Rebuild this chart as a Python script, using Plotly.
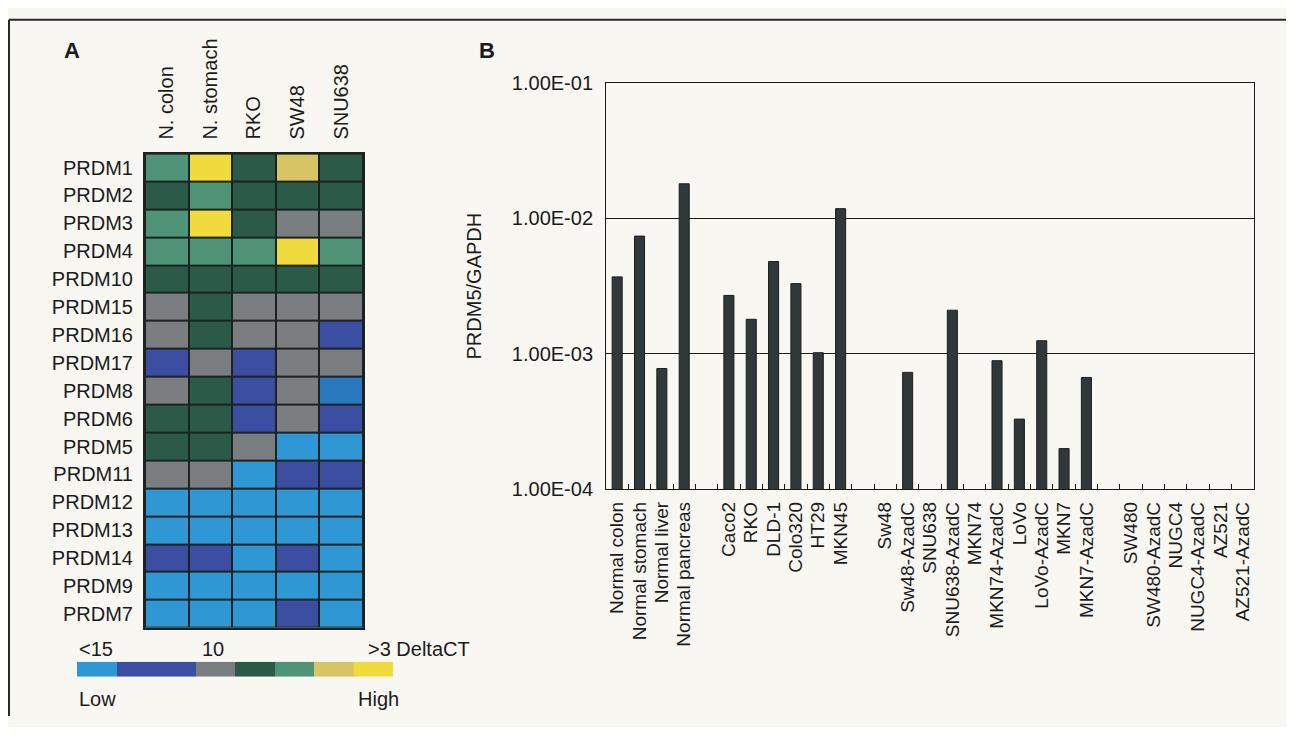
import plotly.graph_objects as go

# ---------------- Panel A data ----------------
genes = ["PRDM1", "PRDM2", "PRDM3", "PRDM4", "PRDM10", "PRDM15", "PRDM16", "PRDM17",
         "PRDM8", "PRDM6", "PRDM5", "PRDM11", "PRDM12", "PRDM13", "PRDM14", "PRDM9", "PRDM7"]
samples = ["N. colon", "N. stomach", "RKO", "SW48", "SNU638"]
# expression level class (0 = low ... 7 = high)
levels = [
    [5, 7, 4, 6, 4],
    [4, 5, 4, 4, 4],
    [5, 7, 4, 3, 3],
    [5, 5, 5, 7, 5],
    [4, 4, 4, 4, 4],
    [3, 4, 3, 3, 3],
    [3, 4, 3, 3, 2],
    [2, 3, 2, 3, 3],
    [3, 4, 2, 3, 1],
    [4, 4, 2, 3, 2],
    [4, 4, 3, 0, 0],
    [3, 3, 0, 2, 2],
    [0, 0, 0, 0, 0],
    [0, 0, 0, 0, 0],
    [2, 2, 0, 2, 0],
    [0, 0, 0, 0, 0],
    [0, 0, 0, 2, 0],
]
legend_levels = [0, 2, 2, 3, 4, 5, 6, 7]
level_colors = ["#2f98d4", "#2a78bd", "#3c4ea2", "#7b7e80", "#2b5a49", "#4f9477", "#d7c465", "#f1da3e"]

# ---------------- Panel B data ----------------
cell_lines = ["Normal colon", "Normal stomach", "Normal liver", "Normal pancreas", " ",
              "Caco2", "RKO", "DLD-1", "Colo320", "HT29", "MKN45", "  ",
              "Sw48", "Sw48-AzadC", "SNU638", "SNU638-AzadC", "MKN74", "MKN74-AzadC",
              "LoVo", "LoVo-AzadC", "MKN7", "MKN7-AzadC", "   ",
              "SW480", "SW480-AzadC", "NUGC4", "NUGC4-AzadC", "AZ521", "AZ521-AzadC"]
prdm5_gapdh = [3.7e-3, 7.4e-3, 7.8e-4, 1.8e-2, None,
               2.7e-3, 1.8e-3, 4.8e-3, 3.3e-3, 1.02e-3, 1.18e-2, None,
               None, 7.3e-4, None, 2.1e-3, None, 8.9e-4,
               3.3e-4, 1.25e-3, 2.0e-4, 6.7e-4, None,
               None, None, None, None, None, None]
y_tickvals = [1e-4, 1e-3, 1e-2, 1e-1]
y_ticktext = ["1.00E-04", "1.00E-03", "1.00E-02", "1.00E-01"]

# page body margin around the figure, plus observed vertical mapping of the capture
OFF_X, OFF_Y = 8, 8
VS, VB = 0.973, 9.1
W, H = 1294 - 2 * OFF_X, 719
BG = "#f8f7f2"
INK = "#1b1b1b"
FONT = "Liberation Sans, Arial, Helvetica, sans-serif"

def px(x):
    return (x - OFF_X) / W

def py(y):
    return 1 - ((y - VB) / VS - OFF_Y) / H

# discrete colorscale
n = len(level_colors)
cscale = []
for i, c in enumerate(level_colors):
    cscale.append([i / n, c])
    cscale.append([(i + 1) / n, c])

fig = go.Figure()

fig.add_trace(go.Heatmap(
    z=levels, x=samples, y=genes, colorscale=cscale, zmin=-0.5, zmax=n - 0.5,
    showscale=False, xgap=2, ygap=2, xaxis="x", yaxis="y", hoverinfo="skip"))

fig.add_trace(go.Heatmap(
    z=[legend_levels], colorscale=cscale, zmin=-0.5, zmax=n - 0.5,
    showscale=False, xaxis="x2", yaxis="y2", hoverinfo="skip"))

fig.add_trace(go.Bar(
    x=cell_lines, y=prdm5_gapdh, marker=dict(color="#30383a", line=dict(color="#1a1f20", width=1)),
    xaxis="x3", yaxis="y3", width=0.45))

def note(text, x, y, xa, size=20):
    return dict(text=text, x=px(x), y=py(y), xref="paper", yref="paper",
                xanchor=xa, yanchor="middle", showarrow=False, font=dict(size=size))

fig.update_layout(
    width=W, height=H, margin=dict(l=0, r=0, t=0, b=0),
    paper_bgcolor=BG, plot_bgcolor=BG, showlegend=False,
    font=dict(family=FONT, size=20, color=INK),
    xaxis=dict(domain=[px(145), px(363)], anchor="y", side="top", tickangle=-90,
               showline=True, mirror=True, linecolor="#1c2220", linewidth=2,
               ticks="", showgrid=False, zeroline=False, ticklabelstandoff=8),
    yaxis=dict(domain=[py(628), py(152)], anchor="x", autorange="reversed",
               showline=True, mirror=True, linecolor="#1c2220", linewidth=2,
               ticks="", showgrid=False, zeroline=False, ticklabelstandoff=6),
    xaxis2=dict(domain=[px(77), px(393)], anchor="y2", visible=False),
    yaxis2=dict(domain=[py(677), py(662)], anchor="x2", visible=False),
    xaxis3=dict(domain=[px(606), px(1254)], anchor="y3", type="category",
                categoryorder="array", categoryarray=cell_lines,
                tickmode="array", tickvals=cell_lines, ticktext=cell_lines,
                tickangle=-90, tickfont=dict(size=19),
                showline=True, mirror=True, linecolor=INK, linewidth=1,
                ticks="inside", ticklen=5, tickcolor=INK, tickson="boundaries",
                showgrid=False, ticklabelstandoff=4),
    yaxis3=dict(domain=[py(489), py(81)], anchor="x3", type="log", range=[-4, -1],
                tickvals=y_tickvals, ticktext=y_ticktext,
                showline=True, mirror=True, linecolor=INK, linewidth=1,
                showgrid=True, gridcolor=INK, gridwidth=1, ticks="",
                zeroline=False, ticklabelstandoff=8,
                title=dict(text="PRDM5/GAPDH", standoff=24, font=dict(size=20))),
    shapes=[
        dict(type="rect", xref="x domain", yref="y domain", x0=0, x1=1, y0=0, y1=1,
             fillcolor="#1c2220", line=dict(width=0), layer="below"),
        dict(type="line", xref="paper", yref="paper", x0=px(9), x1=1, y0=0.999, y1=0.999,
             line=dict(color="#2a2a2a", width=2)),
        dict(type="line", xref="paper", yref="paper", x0=px(9), x1=px(9), y0=0, y1=0.999,
             line=dict(color="#2a2a2a", width=2)),
    ],
    annotations=[
        note("<b>A</b>", 72, 48, "center", 22),
        note("<b>B</b>", 487, 48, "center", 22),
        note("<15", 77, 649, "left"),
        note("10", 213, 649, "center"),
        note(">3 DeltaCT", 366, 649, "left"),
        note("Low", 77, 699, "left"),
        note("High", 401, 699, "right"),
    ],
)

fig.write_html("out.html")
